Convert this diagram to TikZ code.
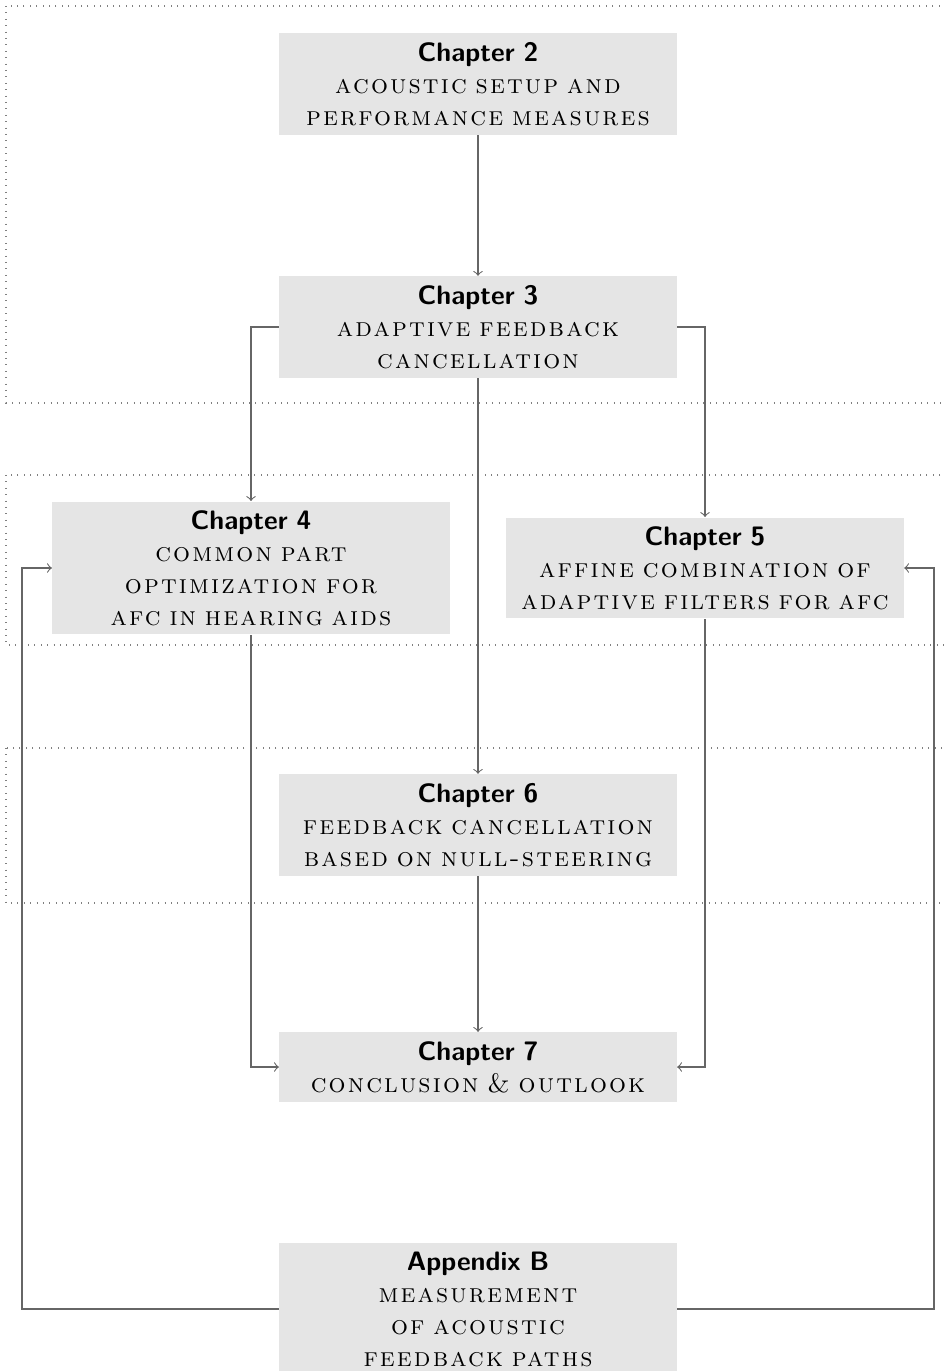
\documentclass[tikz,border=0pt]{standalone}
\usepackage{fontspec}
\newfontfamily\spacedsc[LetterSpace=8,WordSpace=1.33]{lmromancaps10-regular.otf}
\newcommand\sct[1]{{\spacedsc #1}}
\begin{document}
\begin{tikzpicture}[x=0.375pt,y=-0.375pt,
  box/.style={fill=gray!20, text width=5cm, align=center, inner sep=0.3333em},
  conn/.style={->, draw=black!60},
  zone/.style={dotted, gray}]
\useasboundingbox (0,0) rectangle (944,1371);
% dotted zones
\draw[zone] (6,6) rectangle (975,403);
\draw[zone] (6,475) rectangle (975,645);
\draw[zone] (6,748) rectangle (975,903);
% nodes
\node[box] (c2) at (478,84) {\textsf{\textbf{Chapter 2}}\\\sct{acoustic setup and}\\\sct{performance measures}};
\node[box] (c3) at (478,327) {\textsf{\textbf{Chapter 3}}\\\sct{adaptive feedback}\\\sct{cancellation}};
\node[box] (c4) at (251,568) {\textsf{\textbf{Chapter 4}}\\\sct{common part}\\\sct{optimization for}\\\sct{afc in hearing aids}};
\node[box] (c5) at (705,568) {\textsf{\textbf{Chapter 5}}\\\sct{affine combination of}\\\sct{adaptive filters for afc}};
\node[box] (c6) at (478,825) {\textsf{\textbf{Chapter 6}}\\\sct{feedback cancellation}\\\sct{based on null-steering}};
\node[box] (c7) at (478,1067) {\textsf{\textbf{Chapter 7}}\\\sct{conclusion \& outlook}};
\node[box] (ab) at (478,1309) {\textsf{\textbf{Appendix B}}\\\sct{measurement}\\\sct{of acoustic}\\\sct{feedback paths}};
\coordinate (lx) at (22,0);
\coordinate (rx) at (934,0);
% connectors
\draw[conn] (c2.south) -- (c3.north);
\draw[conn] (c3.west) -| (c4.north);
\draw[conn] (c3.east) -| (c5.north);
\draw[conn] (c3.south) -- (c6.north);
\draw[conn] (c4.south) |- (c7.west);
\draw[conn] (c5.south) |- (c7.east);
\draw[conn] (c6.south) -- (c7.north);
\draw[conn] (ab.west) -- (ab.west -| lx) |- (c4.west);
\draw[conn] (ab.east) -- (ab.east -| rx) |- (c5.east);
\end{tikzpicture}
\end{document}
